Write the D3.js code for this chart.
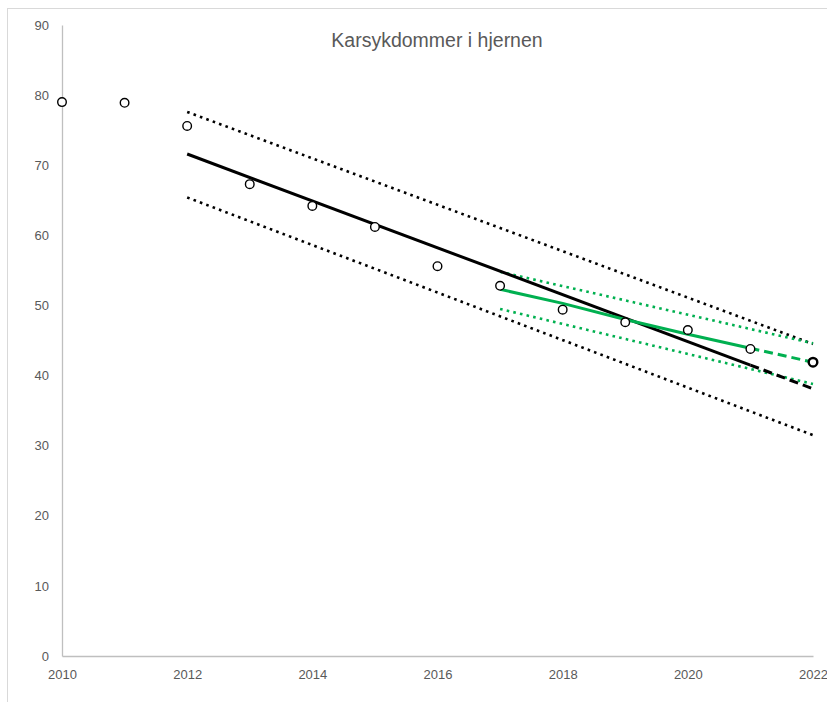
<!DOCTYPE html>
<html>
<head>
<meta charset="utf-8">
<script src="https://cdn.jsdelivr.net/npm/d3@7"></script>
<style>
  html, body { margin: 0; padding: 0; background: #fff; }
  svg { display: block; font-family: "Liberation Sans", Arial, sans-serif; }
</style>
</head>
<body>
<svg id="chart" width="827" height="702"></svg>
<script>
// Observed yearly values
const years  = [2010, 2011, 2012, 2013, 2014, 2015, 2016, 2017, 2018, 2019, 2020, 2021, 2022];
const values = [79.0, 78.9, 75.6, 67.3, 64.2, 61.2, 55.6, 52.8, 49.4, 47.6, 46.5, 43.8, 41.9];

// Long-run trend (2012–2021 solid, 2021–2022 projected) with its band
const trendYears  = [2012, 2021, 2022];
const trendValues = [71.6, 41.5, 38.1];
const bandYears   = [2012, 2022];
const bandUpper   = [77.6, 44.5];
const bandLower   = [65.4, 31.5];

// Recent trend (2017–2021 solid, 2021–2022 projected) with its band
const recentYears  = [2017, 2018, 2019, 2020, 2021, 2022];
const recentValues = [52.3, 50.3, 48.0, 45.9, 43.9, 41.9];
const recentBandYears = [2017, 2022];
const recentUpper  = [54.8, 44.6];
const recentLower  = [49.5, 38.8];

const xTicks = [2010, 2012, 2014, 2016, 2018, 2020, 2022];
const yTicks = [0, 10, 20, 30, 40, 50, 60, 70, 80, 90];
const title = "Karsykdommer i hjernen";

const svg = d3.select("#chart");
const x = d3.scaleLinear().domain([2010, 2022]).range([62, 813]);
const y = d3.scaleLinear().domain([0, 90]).range([656, 25]);

// chart frame
svg.append("rect")
  .attr("x", 7.5).attr("y", 8.5).attr("width", 840).attr("height", 720)
  .attr("fill", "none").attr("stroke", "#d9d9d9").attr("stroke-width", 1);

// axes
const yAxis = svg.append("g").attr("transform", `translate(${x(2010)},0)`)
  .call(d3.axisLeft(y).tickValues(yTicks).tickSize(0).tickPadding(13).tickFormat(d3.format("d")));
const xAxis = svg.append("g").attr("transform", `translate(0,${y(0)})`)
  .call(d3.axisBottom(x).tickValues(xTicks).tickSize(0).tickPadding(14).tickFormat(d3.format("d")));
[yAxis, xAxis].forEach(g => {
  g.select(".domain").attr("stroke", "#bfbfbf").attr("stroke-width", 1.3);
  g.selectAll("text").attr("fill", "#595959").style("font-size", "13px")
    .style("font-family", "'Liberation Sans', Arial, sans-serif");
});

// title
svg.append("text")
  .attr("x", 437).attr("y", 47).attr("text-anchor", "middle")
  .attr("fill", "#595959").style("font-size", "19.5px")
  .text(title);

const line = d3.line().x(d => x(d[0])).y(d => y(d[1]));
const pairs = (xs, ys) => xs.map((v, i) => [v, ys[i]]);

function drawPath(pts, color, width, dash, cap) {
  svg.append("path")
    .attr("d", line(pts))
    .attr("fill", "none")
    .attr("stroke", color)
    .attr("stroke-width", width)
    .attr("stroke-dasharray", dash || null)
    .attr("stroke-linecap", cap || "butt");
}

const green = "#00b050";

// long-run band (dotted)
drawPath(pairs(bandYears, bandUpper), "#000", 2.6, "2.6,4.2");
drawPath(pairs(bandYears, bandLower), "#000", 2.6, "2.6,4.2");

// recent band (dotted green)
drawPath(pairs(recentBandYears, recentUpper), green, 2.6, "2.6,4.2");
drawPath(pairs(recentBandYears, recentLower), green, 2.6, "2.6,4.2");

// long-run trend
const tr = pairs(trendYears, trendValues);
drawPath(tr.slice(0, 2), "#000", 3);
drawPath(tr.slice(1), "#000", 3, "9,5");

// recent trend
const rc = pairs(recentYears, recentValues);
drawPath(rc.slice(0, 5), green, 3);
drawPath(rc.slice(4), green, 3, "9,5");

// observations
svg.append("g").selectAll("circle")
  .data(pairs(years, values))
  .join("circle")
  .attr("cx", d => x(d[0]))
  .attr("cy", d => y(d[1]))
  .attr("r", 4.3)
  .attr("fill", "#fff")
  .attr("stroke", "#000")
  .attr("stroke-width", d => d[0] === 2022 ? 2.4 : 1.4);
</script>
</body>
</html>
